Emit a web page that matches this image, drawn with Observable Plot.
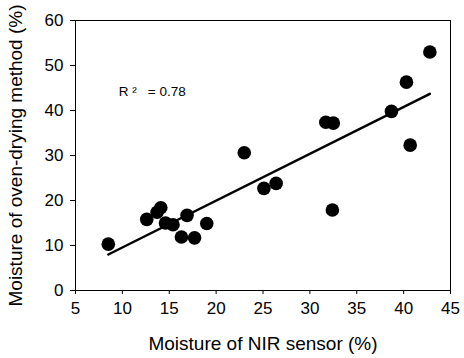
<!DOCTYPE html>
<html>
<head>
<meta charset="utf-8">
<script src="https://cdn.jsdelivr.net/npm/d3@7"></script>
<script src="https://cdn.jsdelivr.net/npm/@observablehq/plot@0.6"></script>
<style>
  html, body { margin: 0; padding: 0; background: #fff; }
  #chart svg { display: block; }
</style>
</head>
<body>
<div id="chart"></div>
<script>
// NIR sensor moisture (%) vs oven-drying moisture (%)
const nirMoisture = [8.5, 12.6, 13.7, 14.1, 14.6, 15.4, 16.9, 16.3, 17.7, 19.0, 23.0, 25.1, 26.4, 31.7, 32.5, 32.4, 38.7, 40.3, 40.7, 42.8];
const ovenMoisture = [10.3, 15.8, 17.4, 18.4, 15.0, 14.6, 16.7, 11.9, 11.7, 14.9, 30.6, 22.7, 23.8, 37.4, 37.2, 17.9, 39.8, 46.3, 32.3, 53.0];
// fitted regression line endpoints
const fitX = [8.5, 42.8];
const fitY = [8.0, 43.7];
const xTicks = [5, 10, 15, 20, 25, 30, 35, 40, 45];
const yTicks = [0, 10, 20, 30, 40, 50, 60];
const xTitle = "Moisture of NIR sensor (%)";
const yTitle = "Moisture of oven-drying method (%)";
const r2Label = "R \u00B2\u00A0\u00A0\u00A0= 0.78";

const points = nirMoisture.map((x, i) => ({x, y: ovenMoisture[i]}));
const fit = fitX.map((x, i) => ({x, y: fitY[i]}));

const chart = Plot.plot({
  width: 464,
  height: 358,
  marginLeft: 75,
  marginRight: 14,
  marginTop: 20,
  marginBottom: 68,
  style: {fontFamily: "'Liberation Sans', Arial, sans-serif", fontSize: "17px", color: "#000", background: "#fff"},
  x: {domain: [5, 45]},
  y: {domain: [0, 60]},
  marks: [
    Plot.frame({stroke: "#000", strokeWidth: 1}),
    Plot.axisX({ticks: xTicks, tickSize: 4, tickPadding: 7, fontSize: 17, label: null}),
    Plot.axisY({ticks: yTicks, tickSize: 5, tickPadding: 7, fontSize: 17, label: null}),
    Plot.axisX({ticks: [], tickSize: 0, fontSize: 19,
      label: xTitle, labelAnchor: "center", labelArrow: false, labelOffset: 59}),
    Plot.axisY({ticks: [], tickSize: 0, fontSize: 19,
      label: yTitle, labelAnchor: "center", labelArrow: false, labelOffset: 67}),
    Plot.line(fit, {x: "x", y: "y", stroke: "#000", strokeWidth: 2.5}),
    Plot.dot(points, {x: "x", y: "y", r: 6.8, fill: "#000", stroke: "none"}),
    Plot.text([r2Label], {x: 9.6, y: 44.1, text: d => d, textAnchor: "start", fontSize: 13.5, fill: "#000"})
  ]
});
document.getElementById("chart").append(chart);
</script>
</body>
</html>
